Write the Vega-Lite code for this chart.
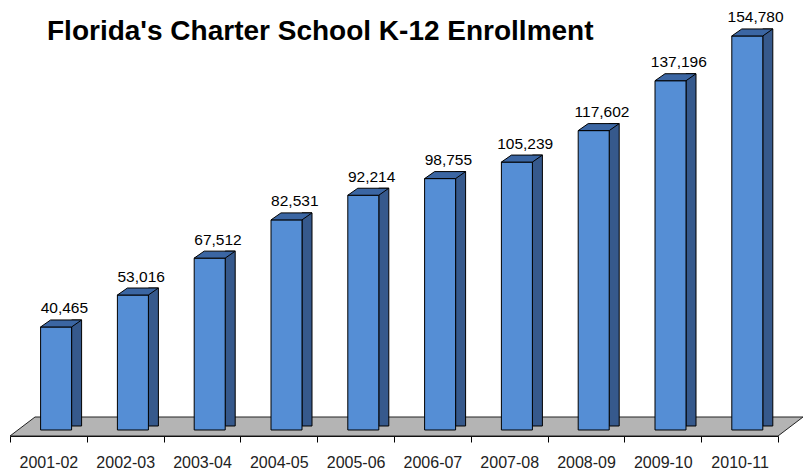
{
  "$schema": "https://vega.github.io/schema/vega-lite/v6.json",
  "autosize": {"type": "none"},
  "width": 768,
  "height": 436,
  "padding": {"left": 10, "top": 0, "right": 25, "bottom": 36},
  "background": "white",
  "title": {
    "text": "Florida's Charter School K-12 Enrollment",
    "anchor": "start",
    "frame": "group",
    "font": "Liberation Sans",
    "fontSize": 28,
    "fontWeight": "bold",
    "color": "#000000",
    "baseline": "alphabetic",
    "dx": 37,
    "dy": 72
  },
  "config": {"view": {"stroke": null}},
  "datasets": {
    "enroll": [
      {"year": "2001-02", "enrollment": 40465},
      {"year": "2002-03", "enrollment": 53016},
      {"year": "2003-04", "enrollment": 67512},
      {"year": "2004-05", "enrollment": 82531},
      {"year": "2005-06", "enrollment": 92214},
      {"year": "2006-07", "enrollment": 98755},
      {"year": "2007-08", "enrollment": 105239},
      {"year": "2008-09", "enrollment": 117602},
      {"year": "2009-10", "enrollment": 137196},
      {"year": "2010-11", "enrollment": 154780}
    ],
    "floor": [
      {"fx": 0, "lo": -2357, "hi": -2357},
      {"fx": 25, "lo": -2357, "hi": 5106},
      {"fx": 768, "lo": -2357, "hi": 5106},
      {"fx": 793, "lo": 5106, "hi": 5106}
    ]
  },
  "resolve": {"scale": {"x": "independent"}},
  "layer": [
    {
      "data": {"name": "floor"},
      "mark": {"type": "area", "fill": "#b4b4b4", "stroke": "#222222", "strokeWidth": 1},
      "encoding": {
        "x": {"field": "fx", "type": "quantitative", "scale": {"domain": [0, 768], "nice": false, "zero": false}, "axis": null},
        "y": {"field": "lo", "type": "quantitative", "scale": {"domain": [-2357, 168904], "nice": false, "zero": false}, "axis": null},
        "y2": {"field": "hi"}
      }
    },
    {
      "data": {"name": "enroll"},
      "encoding": {
        "x": {
          "field": "year",
          "type": "ordinal",
          "scale": {"paddingInner": 0, "paddingOuter": 0},
          "axis": {
            "title": null,
            "labelAngle": 0,
            "labelFont": "Liberation Sans",
            "labelFontSize": 16,
            "labelColor": "#222222",
            "labelPadding": 12,
            "tickSize": 6,
            "tickColor": "#000000",
            "domainColor": "#000000",
            "tickBand": "extent",
            "grid": false
          }
        },
        "y": {"field": "enrollment", "type": "quantitative", "scale": {"domain": [-2357, 168904], "nice": false, "zero": false}, "axis": null}
      },
      "layer": [
        {
          "mark": {"type": "bar", "width": 10, "xOffset": 28.2, "yOffset": -7, "y2Offset": -4, "fill": "#36598c", "stroke": "#000000", "strokeWidth": 1},
          "encoding": {"y2": {"datum": 0}}
        },
        {
          "mark": {"type": "bar", "width": 31, "xOffset": 7.7, "fill": "#558ed5", "stroke": "#000000", "strokeWidth": 1},
          "encoding": {"y2": {"datum": 0}}
        },
        {
          "mark": {"type": "point", "shape": "M-1,0.1707L-0.5122,-0.1707L1,-0.1707L0.5122,0.1707Z", "size": 1681, "filled": true, "fill": "#3b66a3", "stroke": "#000000", "strokeWidth": 1, "opacity": 1, "xOffset": 12.7, "yOffset": -3.5}
        },
        {
          "mark": {"type": "text", "font": "Liberation Sans", "fontSize": 15.5, "color": "#000000", "baseline": "alphabetic", "align": "center", "xOffset": 16, "yOffset": -13.5},
          "encoding": {"text": {"field": "enrollment", "type": "quantitative", "format": ",d"}}
        }
      ]
    }
  ]
}
